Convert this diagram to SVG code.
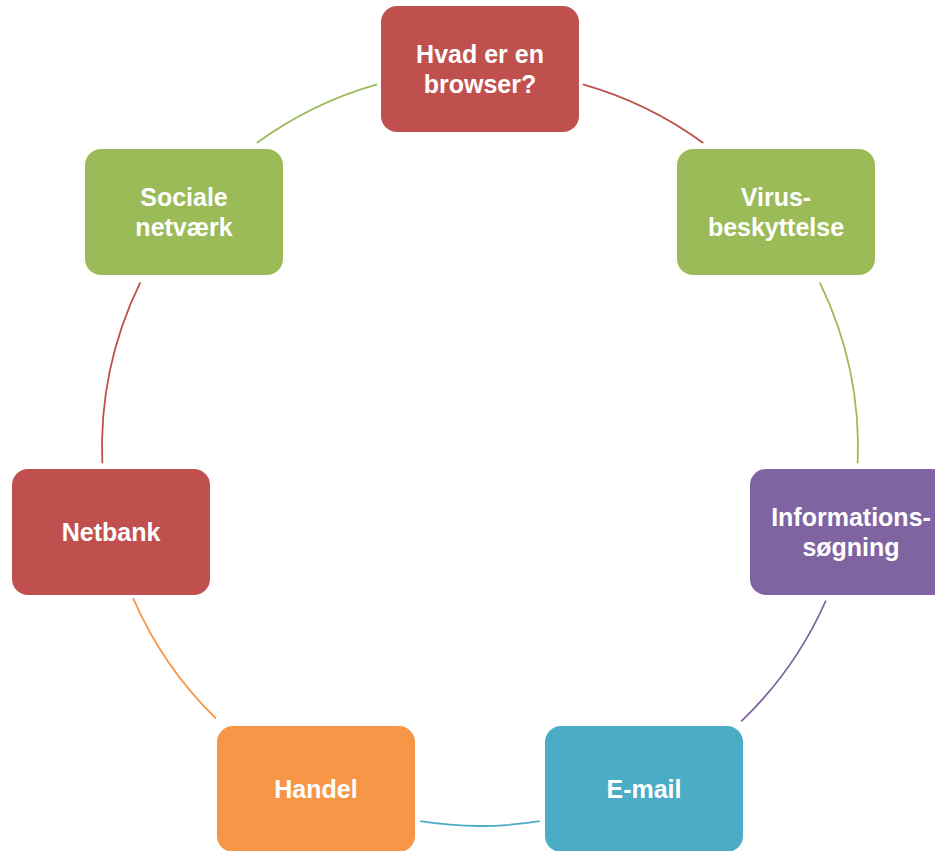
<svg xmlns="http://www.w3.org/2000/svg" width="935" height="851" viewBox="0 0 935 851">
<style>
.lbl{font-family:"Liberation Sans",Arial,sans-serif;font-weight:bold;font-size:25px;fill:#ffffff;text-anchor:middle}
.arc{fill:none;stroke-width:1.8}
</style>
<rect width="935" height="851" fill="#ffffff"/>
<g id="connectors">
<path class="arc" stroke="#C0504D" d="M582.9,84.3 A378,378 0 0 1 703.3,143.0"/>
<path class="arc" stroke="#9BBB59" d="M819.7,282.3 A378,378 0 0 1 857.7,463.2"/>
<path class="arc" stroke="#8064A2" d="M825.9,600.5 A378,378 0 0 1 741.2,721.3"/>
<path class="arc" stroke="#4BACC6" d="M539.8,821.2 A378,378 0 0 1 420.2,821.2"/>
<path class="arc" stroke="#F79646" d="M216.0,718.5 A378,378 0 0 1 133.1,598.1"/>
<path class="arc" stroke="#C0504D" d="M102.3,463.2 A378,378 0 0 1 140.3,282.3"/>
<path class="arc" stroke="#9BBB59" d="M256.7,143.0 A378,378 0 0 1 377.1,84.3"/>
</g>
<g id="node-browser">
<rect x="381" y="6" width="198" height="126" rx="16" fill="#C0504D"/>
<text class="lbl" x="480" y="63">Hvad er en</text>
<text class="lbl" x="480" y="93">browser?</text>
</g>
<g id="node-virus">
<rect x="677" y="149" width="198" height="126" rx="16" fill="#9BBB59"/>
<text class="lbl" x="776" y="206">Virus-</text>
<text class="lbl" x="776" y="236">beskyttelse</text>
</g>
<g id="node-info">
<rect x="750" y="469" width="198" height="126" rx="16" fill="#8064A2"/>
<text class="lbl" x="851" y="526">Informations-</text>
<text class="lbl" x="851" y="556">søgning</text>
</g>
<g id="node-email">
<rect x="545" y="726" width="198" height="126" rx="16" fill="#4BACC6"/>
<text class="lbl" x="644" y="798">E-mail</text>
</g>
<g id="node-handel">
<rect x="217" y="726" width="198" height="126" rx="16" fill="#F79646"/>
<text class="lbl" x="316" y="798">Handel</text>
</g>
<g id="node-netbank">
<rect x="12" y="469" width="198" height="126" rx="16" fill="#C0504D"/>
<text class="lbl" x="111" y="541">Netbank</text>
</g>
<g id="node-sociale">
<rect x="85" y="149" width="198" height="126" rx="16" fill="#9BBB59"/>
<text class="lbl" x="184" y="206">Sociale</text>
<text class="lbl" x="184" y="236">netværk</text>
</g>
</svg>
